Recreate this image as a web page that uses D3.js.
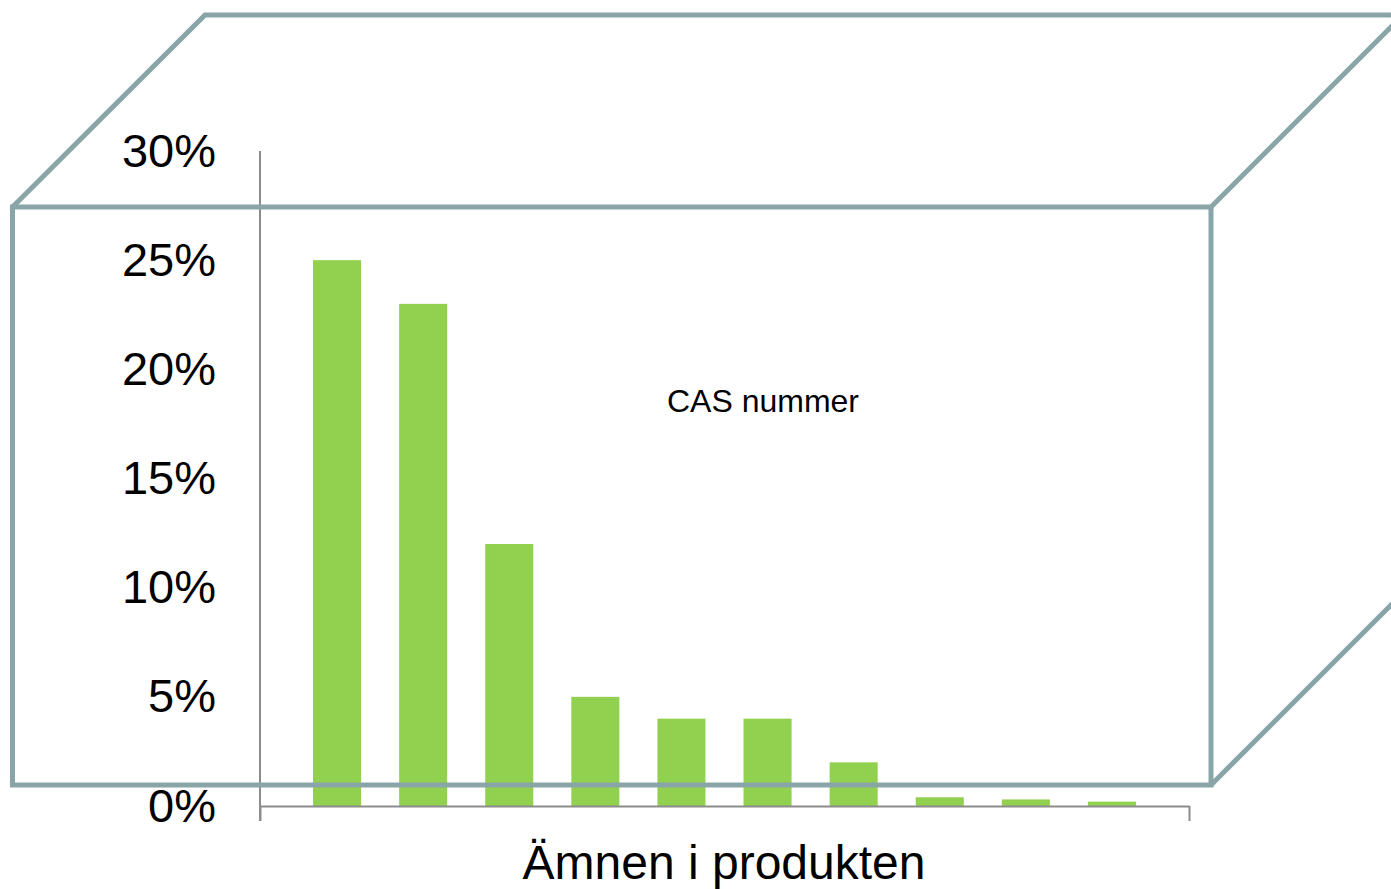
<!DOCTYPE html>
<html><head><meta charset="utf-8">
<script src="https://cdn.jsdelivr.net/npm/d3@7"></script>
<style>html,body{margin:0;padding:0;background:#fff;}svg{display:block;font-family:"Liberation Sans",Arial,sans-serif;}</style>
</head><body>
<svg id="c" width="1391" height="889"></svg>
<script>
const categories = ["1","2","3","4","5","6","7","8","9","10"];
const values = [0.25, 0.23, 0.12, 0.05, 0.04, 0.04, 0.02, 0.004, 0.003, 0.002];
const yTicks = [0, 0.05, 0.10, 0.15, 0.20, 0.25, 0.30];
const xTitle = "Ämnen i produkten";
const innerLabel = "CAS nummer";

const svg = d3.select("#c");
const x = d3.scaleBand().domain(categories).range([260, 1189]).paddingInner(0.442).paddingOuter(0.616);
const y = d3.scaleLinear().domain([0, 0.30]).range([806, 151]);
const fmt = d3.format(".0%");

// bars
svg.append("g").selectAll("rect").data(values).join("rect")
  .attr("x", (d,i) => x(categories[i]))
  .attr("width", x.bandwidth())
  .attr("y", d => y(d))
  .attr("height", d => y(0) - y(d))
  .attr("fill", "#92d050");

// y axis
const ya = svg.append("g").attr("transform", "translate(260,0)")
  .call(d3.axisLeft(y).tickValues(yTicks).tickFormat(fmt).tickSize(0).tickPadding(44));
ya.select(".domain").remove();
ya.selectAll("text").attr("font-size", 47).attr("fill", "#000").attr("font-family", "Liberation Sans, Arial, sans-serif");
svg.append("line").attr("x1",260).attr("x2",260).attr("y1",151).attr("y2",821).attr("stroke","#8c8c8c").attr("stroke-width",2);

// x axis
const xa = svg.append("g").attr("transform", "translate(0,806)")
  .call(d3.axisBottom(d3.scaleLinear().domain([0,1]).range([260,1189])).tickValues([0,1]).tickFormat("").tickSizeInner(15).tickSizeOuter(0));
xa.select(".domain").attr("stroke","#8c8c8c").attr("stroke-width",2);
xa.selectAll(".tick line").attr("stroke","#8c8c8c").attr("stroke-width",2);

svg.append("text").attr("x", 724).attr("y", 879).attr("text-anchor","middle")
  .attr("font-size", 48).attr("fill","#000").text(xTitle);

svg.append("text").attr("x", 763).attr("y", 412).attr("text-anchor","middle")
  .attr("font-size", 32).attr("fill","#000").text(innerLabel);

// decorative 3D box
const box = svg.append("g").attr("fill","none").attr("stroke","#89a5a7").attr("stroke-width",5).attr("stroke-linejoin","miter");
box.append("rect").attr("x",12.5).attr("y",207).attr("width",1198.5).attr("height",578);
box.append("path").attr("d","M12.5,207 L205,15 L1400,15");
box.append("path").attr("d","M1211,207 L1404,14");
box.append("path").attr("d","M1211,785 L1404,592");
</script>
</body></html>
